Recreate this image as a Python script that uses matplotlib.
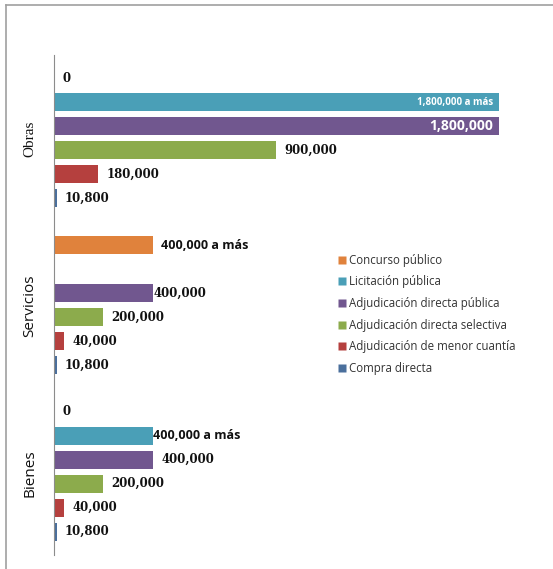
import numpy as np
import matplotlib
matplotlib.use("Agg")
import matplotlib.pyplot as plt
from matplotlib.lines import Line2D

# categories (top to bottom) and series (top row to bottom row in each group)
categories = ["Obras", "Servicios", "Bienes"]
series = ["Concurso público", "Licitación pública", "Adjudicación directa pública",
          "Adjudicación directa selectiva", "Adjudicación de menor cuantía", "Compra directa"]
colors = ["#E0823C", "#4A9FB7", "#71578F", "#8CAB4C", "#B5403E", "#4A6F9C"]

obras = [0, 1800000, 1800000, 900000, 180000, 10800]
servicios = [400000, np.nan, 400000, 200000, 40000, 10800]
bienes = [0, 400000, 400000, 200000, 40000, 10800]
values = [obras, servicios, bienes]

obras_lbl = ["0", "1,800,000 a más", "1,800,000", "900,000", "180,000", "10,800"]
servicios_lbl = ["400,000 a más", None, "400,000", "200,000", "40,000", "10,800"]
bienes_lbl = ["0", "400,000 a más", "400,000", "200,000", "40,000", "10,800"]
labels = [obras_lbl, servicios_lbl, bienes_lbl]

W, H = 553, 569
fig = plt.figure(figsize=(W / 100, H / 100), dpi=100)
ax = fig.add_axes([54 / W, 1 - 555 / H, 494 / W, 500 / H])
ax.set_xlim(0, 2000000)
ax.set_ylim(-0.5, 2.5)

step = 24 / 167.0
bh = 18 / 167.0
serif = "DejaVu Serif"
sans = "Open Sans"

for g, cat in enumerate(categories):
    yc = 2 - g
    for i, s in enumerate(series):
        v = values[g][i]
        y = yc + (2.5 - i) * step
        if np.isnan(v):
            continue
        ax.barh(y, v, height=bh, color=colors[i], edgecolor="none")
        txt = labels[g][i]
        if txt is None:
            continue
        if v >= 1800000:
            fs = 7 if "más" in txt else 10
            ax.annotate(txt, (v, y), xytext=(-4, 0), textcoords="offset points",
                        ha="right", va="center", color="white", fontsize=fs,
                        fontweight="bold", family=sans)
            continue
        pad = 6
        if (g, i) in [(1, 2), (2, 1)]:
            pad = 0.5
        fam = sans if "más" in txt else serif
        ax.annotate(txt, (v, y), xytext=(pad, 0), textcoords="offset points",
                    ha="left", va="center", color="#111111", fontsize=8.5 if fam == serif else 9,
                    fontweight="bold", family=fam)

for s in ["top", "right", "bottom"]:
    ax.spines[s].set_visible(False)
ax.spines["left"].set_color("#8c8c8c")
ax.set_xticks([])
ax.set_yticks([])

# category names
cat_fonts = ["Liberation Serif", sans, sans]
for g, cat in enumerate(categories):
    yfig = 1 - (138.5 + g * 167.5) / H
    fig.text(30 / W, yfig, cat, rotation=90, ha="center", va="center",
             fontsize=11, family=cat_fonts[g], color="#111111")

handles = [Line2D([], [], marker="s", linestyle="none", markersize=5.5,
                  markerfacecolor=c, markeredgecolor="none") for c in colors]
leg = fig.legend(handles, series, loc="upper left", bbox_to_anchor=(333 / W, 1 - 248 / H),
                 frameon=False, fontsize=8.3, labelspacing=0.75, handlelength=0.6,
                 handletextpad=0.3, borderpad=0)
for t in leg.get_texts():
    t.set_color("#333333")
    t.set_family(sans)

# outer frame
fig.add_artist(Line2D([6 / W, 6 / W], [1 - 5 / H, 0], color="#a0a0a0", lw=1.2))
fig.add_artist(Line2D([6 / W, 1], [1 - 5 / H, 1 - 5 / H], color="#a0a0a0", lw=1.2))

fig.savefig("out.png", dpi=100)
